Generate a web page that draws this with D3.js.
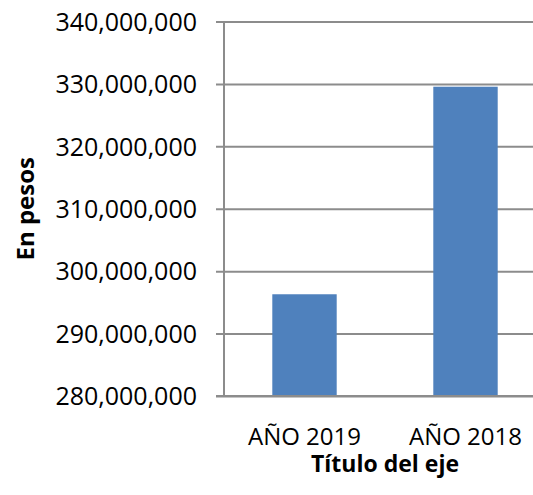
<!DOCTYPE html>
<html>
<head>
<meta charset="utf-8">
<script src="https://cdn.jsdelivr.net/npm/d3@7"></script>
<style>
body { margin: 0; background: #fff; }
svg { display: block; font-family: "Open Sans", sans-serif; }
</style>
</head>
<body>
<svg width="533" height="495"></svg>
<script>
// datos del gráfico
const categorias = ["AÑO 2019", "AÑO 2018"];
const valores = [296300000, 329550000];
const ticksY = [280000000, 290000000, 300000000, 310000000, 320000000, 330000000, 340000000];
const tituloX = "Título del eje";
const tituloY = "En pesos";

const svg = d3.select("svg");
const area = { left: 224, right: 546, top: 21.5, bottom: 396 };

// escalas
let scaleX = d3.scaleBand()
	.domain(categorias)
	.range([area.left, area.right])
	.paddingInner(0.6)
	.paddingOuter(0.3);
let scaleY = d3.scaleLinear()
	.domain([ticksY[0], ticksY[ticksY.length - 1]])
	.range([area.bottom, area.top]);

// líneas de cuadrícula + eje Y
let axisY = d3.axisLeft(scaleY)
	.tickValues(ticksY)
	.tickSize(-(area.right - area.left))
	.tickFormat(d3.format(","));
let gY = svg.append("g")
	.attr("transform", `translate(${area.left},0)`)
	.call(axisY);
gY.select(".domain").remove();
gY.selectAll(".tick line")
	.attr("x1", -8)
	.style("stroke", "#8c8c8c")
	.style("stroke-width", 2);
gY.selectAll(".tick text")
	.attr("x", -27)
	.attr("dy", "0.35em")
	.style("font-size", "25px")
	.style("font-family", "Open Sans, sans-serif")
	.style("fill", "#000");

// barras
svg.selectAll(".bar")
	.data(categorias)
	.enter()
	.append("rect")
	.attr("x", d => scaleX(d))
	.attr("y", (d, i) => scaleY(valores[i]))
	.attr("width", scaleX.bandwidth())
	.attr("height", (d, i) => area.bottom - scaleY(valores[i]))
	.style("fill", "#4f81bd");

// eje vertical
svg.append("line")
	.attr("x1", area.left).attr("x2", area.left)
	.attr("y1", area.top).attr("y2", area.bottom + 1)
	.style("stroke", "#8c8c8c")
	.style("stroke-width", 2);
// línea base
svg.append("line")
	.attr("x1", area.left - 8).attr("x2", area.right)
	.attr("y1", area.bottom).attr("y2", area.bottom)
	.style("stroke", "#8c8c8c")
	.style("stroke-width", 2);

// etiquetas del eje X
svg.selectAll(".cat")
	.data(categorias)
	.enter()
	.append("text")
	.attr("x", d => scaleX(d) + scaleX.bandwidth() / 2)
	.attr("y", 445)
	.attr("text-anchor", "middle")
	.style("font-size", "24px")
	.text(d => d);

// títulos
svg.append("text")
	.attr("x", (area.left + area.right) / 2)
	.attr("y", 472)
	.attr("text-anchor", "middle")
	.style("font-size", "23px")
	.style("font-weight", "bold")
	.text(tituloX);
svg.append("text")
	.attr("transform", `translate(34,${(area.top + area.bottom) / 2}) rotate(-90)`)
	.attr("text-anchor", "middle")
	.style("font-size", "24px")
	.style("font-weight", "bold")
	.text(tituloY);
</script>
</body>
</html>
